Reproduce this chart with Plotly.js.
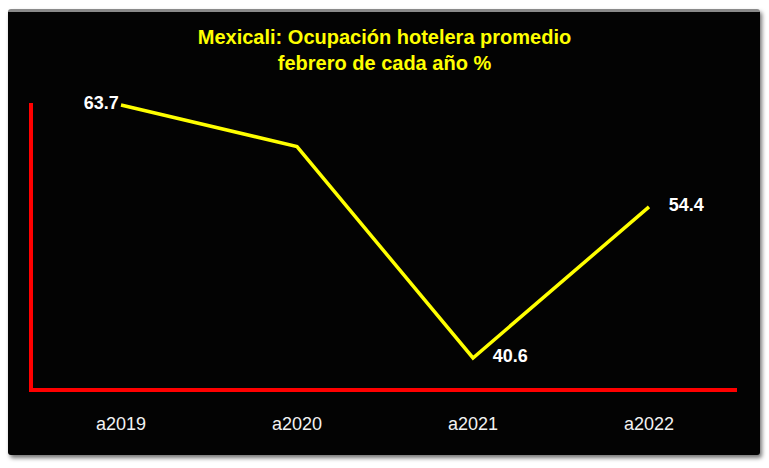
<!DOCTYPE html>
<html>
<head>
<meta charset="utf-8">
<script src="https://cdn.plot.ly/plotly-3.0.1.min.js"></script>
<style>
  html, body { margin: 0; padding: 0; background: #ffffff; }
  #frame {
    position: absolute; left: 8px; top: 9px; width: 752px; height: 446px;
    background: #030303; border-radius: 3px;
    border-top: 3px solid #8a8a8a;
    box-shadow: 2px 3px 4px rgba(0,0,0,0.55);
    box-sizing: border-box;
  }
  #chart { position: absolute; left: 0; top: 0; width: 769px; height: 468px; }
</style>
</head>
<body>
<div id="frame"></div>
<div id="chart"></div>
<script>
// Ocupacion hotelera promedio, febrero
var years = ['a2019', 'a2020', 'a2021', 'a2022'];
var ocupacion = [63.7, 59.9, 40.6, 54.4];
var etiquetas = ['63.7', '', '40.6', '54.4'];

var trace1 = {
  x: years,
  y: ocupacion,
  type: 'scatter',
  mode: 'lines+markers+text',
  text: etiquetas,
  textposition: ['middle left', 'top center', 'middle right', 'middle right'],
  textfont: { family: 'Liberation Sans Narrow, Arial Narrow, sans-serif', size: 18, color: '#ffffff', weight: 'bold' },
  line: { color: '#ffff00', width: 3.5 },
  marker: { size: [2, 2, 30, 30], color: 'rgba(0,0,0,0)', line: { width: 0 } },
  cliponaxis: false,
  hoverinfo: 'x+y'
};

var data = [trace1];

var layout = {
  showlegend: false,
  width: 769,
  height: 468,
  paper_bgcolor: 'rgba(0,0,0,0)',
  plot_bgcolor: 'rgba(0,0,0,0)',
  margin: { l: 33, r: 32, t: 103, b: 80 },
  title: {
    text: 'Mexicali: Ocupación hotelera promedio<br>febrero de cada año %',
    font: { family: 'Liberation Sans Narrow, Arial Narrow, sans-serif', size: 20, color: '#ffff00', weight: 'bold' },
    x: 0.5,
    xanchor: 'center',
    yref: 'container',
    y: 1 - 44 / 468,
    yanchor: 'top'
  },
  xaxis: {
    type: 'category',
    range: [-0.5, 3.5],
    showgrid: false,
    zeroline: false,
    showline: true,
    linecolor: '#ff0000',
    linewidth: 3.5,
    ticks: 'outside',
    ticklen: 17,
    tickcolor: 'rgba(0,0,0,0)',
    tickfont: { family: 'Liberation Sans Narrow, Arial Narrow, sans-serif', size: 18, color: '#f2f2f2' }
  },
  yaxis: {
    range: [37.86, 63.88],
    showgrid: false,
    zeroline: false,
    showline: true,
    linecolor: '#ff0000',
    linewidth: 3.5,
    showticklabels: false,
    ticks: ''
  }
};

Plotly.newPlot('chart', data, layout, { displayModeBar: false, displaylogo: false });
</script>
</body>
</html>
